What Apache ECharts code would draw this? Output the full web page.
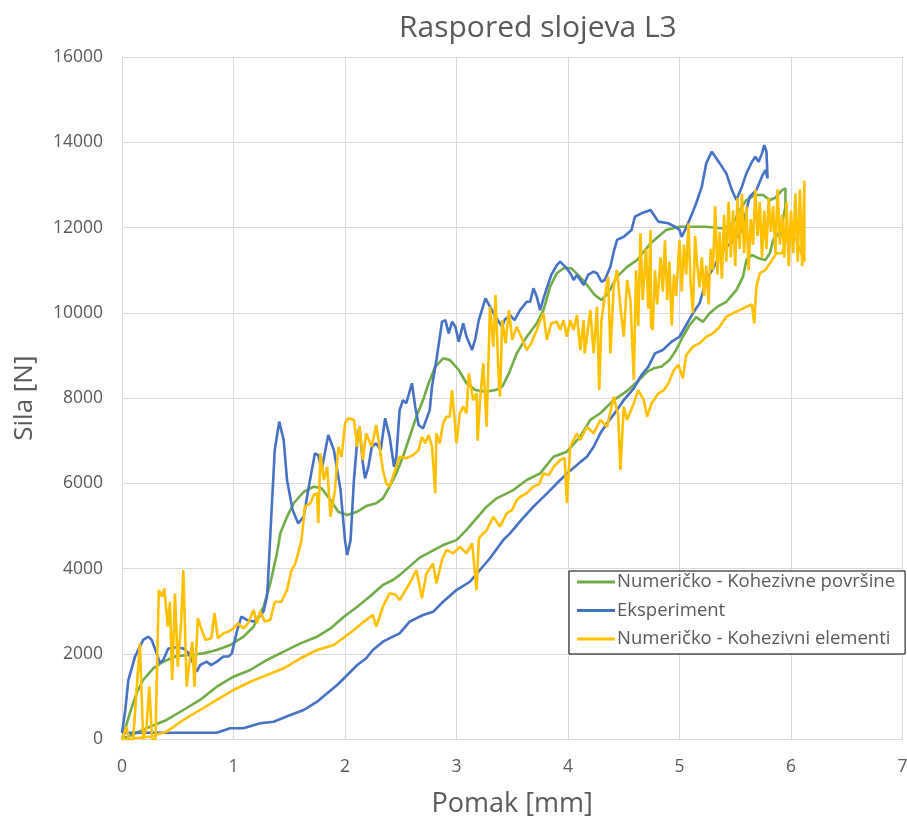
<!DOCTYPE html>
<html>
<head>
<meta charset="utf-8">
<title>Raspored slojeva L3</title>
<script src="https://cdn.jsdelivr.net/npm/echarts@6/dist/echarts.min.js"></script>
<style>
  html, body { margin: 0; padding: 0; background: #fff; }
  #chart { width: 907px; height: 816px; }
</style>
</head>
<body>
<div id="chart"></div>
<script>
// Axis ticks
const xTicks = [0, 1, 2, 3, 4, 5, 6, 7];
const yTicks = [0, 2000, 4000, 6000, 8000, 10000, 12000, 14000, 16000];

const seriesNames = [
  'Numeričko - Kohezivne površine',
  'Eksperiment',
  'Numeričko - Kohezivni elementi'
];

// Numeričko - Kohezivne površine: loading branch, then unloading branch [pomak mm, sila N]
const kohezivnePovrsine = [
  [0,0],[0.07,610],[0.13,1080],[0.19,1390],[0.28,1665],[0.37,1820],[0.49,1955],[0.61,1977],
  [0.73,2015],[0.85,2094],[0.97,2210],[1.09,2406],[1.18,2640],[1.27,3110],[1.33,3660],[1.39,4360],
  [1.42,4830],[1.48,5220],[1.54,5535],[1.63,5805],[1.72,5925],[1.79,5885],[1.87,5610],[1.94,5337],
  [2.02,5260],[2.11,5337],[2.19,5470],[2.28,5535],[2.34,5650],[2.40,5925],[2.46,6235],[2.52,6625],
  [2.58,7095],[2.64,7565],[2.70,7955],[2.75,8350],[2.81,8740],[2.88,8935],[2.94,8895],[3.02,8660],
  [3.09,8350],[3.17,8190],[3.26,8150],[3.35,8190],[3.41,8270],[3.47,8580],[3.54,9050],[3.63,9440],
  [3.72,9755],[3.78,10065],[3.84,10615],[3.90,10930],[3.96,11045],[4.03,11045],[4.09,10890],
  [4.17,10655],[4.24,10420],[4.30,10300],[4.36,10460],[4.44,10850],[4.53,11080],[4.62,11240],
  [4.74,11630],[4.88,11945],[5.0,12020],[5.13,12020],[5.24,12020],[5.39,11980],[5.48,12100],
  [5.54,12410],[5.60,12645],[5.68,12765],[5.75,12765],[5.81,12645],[5.86,12700],[5.92,12880],
  [5.95,12920],
  [5.95,12490],[5.92,12100],[5.89,11865],[5.84,11710],[5.81,11395],[5.77,11240],[5.71,11280],
  [5.65,11355],[5.60,11240],[5.57,10850],[5.51,10535],[5.42,10260],[5.34,10145],[5.27,9990],
  [5.21,9790],[5.15,9900],[5.09,9715],[5.03,9440],[4.97,9130],[4.91,8895],[4.84,8740],[4.77,8700],
  [4.71,8620],[4.62,8385],[4.53,8170],[4.41,7955],[4.29,7645],[4.20,7490],[4.11,7100],[3.99,6745],
  [3.87,6625],[3.75,6235],[3.63,6080],[3.51,5845],[3.36,5650],[3.27,5455],[3.09,4910],[3.0,4670],
  [2.88,4555],[2.67,4260],[2.49,3850],[2.43,3735],[2.34,3620],[2.22,3345],[2.11,3110],[1.99,2875],
  [1.87,2600],[1.75,2406],[1.60,2250],[1.45,2055],[1.30,1860],[1.15,1625],[1.0,1468],[0.85,1234],
  [0.70,922],[0.55,687],[0.40,453],[0.25,295],[0,0]
];

// Eksperiment: loading branch, then unloading branch [pomak mm, sila N]
const eksperiment = [
  [0,150],[0.03,700],[0.057,1390],[0.117,1940],[0.19,2330],[0.236,2406],[0.266,2330],[0.31,2020],
  [0.34,1790],[0.37,1860],[0.415,2130],[0.49,2160],[0.55,2130],[0.6,2015],[0.64,1780],[0.67,1585],
  [0.70,1740],[0.76,1820],[0.80,1740],[0.85,1820],[0.91,1940],[0.955,1940],[0.985,2015],[1.03,2525],
  [1.07,2875],[1.12,2800],[1.18,2760],[1.22,2840],[1.27,3000],[1.30,3345],[1.31,3735],[1.32,4280],
  [1.37,6785],[1.41,7450],[1.45,7020],[1.48,6080],[1.53,5380],[1.58,5065],[1.63,5220],[1.67,5845],
  [1.73,6705],[1.76,6665],[1.79,6315],[1.85,7135],[1.90,6785],[1.96,5845],[2.0,4670],[2.02,4320],
  [2.05,4670],[2.08,6080],[2.11,7020],[2.13,7330],[2.16,6470],[2.18,6120],[2.21,6390],[2.24,6860],
  [2.28,6940],[2.32,6785],[2.36,7530],[2.40,7095],[2.44,6390],[2.46,6625],[2.49,7720],[2.52,7955],
  [2.55,7880],[2.60,8350],[2.63,7800],[2.66,7370],[2.70,7290],[2.76,7720],[2.78,8270],[2.82,8895],
  [2.87,9790],[2.90,9830],[2.93,9520],[2.96,9790],[2.99,9675],[3.02,9325],[3.06,9755],[3.09,9440],
  [3.14,9130],[3.17,9405],[3.20,9830],[3.26,10340],[3.30,10145],[3.35,9910],[3.38,9790],[3.41,9675],
  [3.43,9830],[3.48,9950],[3.52,9830],[3.57,10065],[3.63,10260],[3.66,10260],[3.69,10575],
  [3.72,10380],[3.75,10065],[3.79,10420],[3.85,10890],[3.90,11120],[3.93,11200],[3.99,11045],
  [4.03,10890],[4.05,10770],[4.08,10890],[4.14,10655],[4.18,10890],[4.23,10965],[4.26,10930],
  [4.30,10730],[4.33,10770],[4.38,11080],[4.41,11435],[4.44,11710],[4.50,11785],[4.57,11945],
  [4.60,12255],[4.66,12335],[4.74,12410],[4.77,12295],[4.81,12140],[4.90,12100],[4.96,12020],
  [5.0,11945],[5.02,11785],[5.05,11945],[5.09,12180],[5.15,12570],[5.20,12960],[5.24,13510],
  [5.29,13780],[5.33,13625],[5.38,13430],[5.42,13270],[5.47,12880],[5.51,12645],[5.56,12960],
  [5.60,13270],[5.65,13545],[5.68,13660],[5.71,13545],[5.74,13740],[5.76,13935],[5.78,13780],
  [5.79,13155],
  [5.77,13350],[5.74,13200],[5.69,12880],[5.63,12725],[5.60,12410],[5.57,12020],[5.54,11865],
  [5.48,11670],[5.42,11550],[5.37,11395],[5.31,11080],[5.24,10770],[5.18,10225],[5.12,9990],
  [5.06,9715],[5.0,9440],[4.93,9325],[4.85,9130],[4.78,9050],[4.72,8735],[4.66,8545],[4.59,8230],
  [4.50,7955],[4.44,7720],[4.35,7410],[4.29,7175],[4.23,6860],[4.17,6625],[4.11,6500],[4.02,6300],
  [3.93,6080],[3.81,5760],[3.69,5455],[3.58,5140],[3.48,4830],[3.42,4675],[3.30,4245],[3.21,3970],
  [3.12,3695],[3.0,3500],[2.88,3225],[2.79,2990],[2.70,2915],[2.58,2760],[2.49,2485],[2.43,2406],
  [2.34,2290],[2.25,2094],[2.19,1900],[2.11,1742],[2.02,1508],[1.93,1273],[1.84,1080],[1.75,882],
  [1.63,687],[1.51,570],[1.36,413],[1.24,375],[1.09,258],[0.97,258],[0.85,155],[0.25,155],[0,150]
];

// Numeričko - Kohezivni elementi: loading branch, then unloading branch [pomak mm, sila N]
const kohezivniElementi = [
  [0,0],[0.04,295],[0.06,0],[0.10,0],[0.16,2250],[0.19,0],[0.22,300],[0.245,1234],[0.27,0],
  [0.30,0],[0.33,3500],[0.36,3345],[0.38,3540],[0.41,2640],[0.43,3225],[0.45,1390],[0.475,3420],
  [0.50,1700],[0.53,2720],[0.55,3970],[0.58,1234],[0.60,1700],[0.63,2290],[0.65,1234],[0.68,2840],
  [0.715,2565],[0.75,2330],[0.80,2370],[0.83,2955],[0.86,2370],[0.91,2485],[0.955,2525],[1.0,2600],
  [1.04,2720],[1.09,2600],[1.13,2720],[1.18,3030],[1.21,2720],[1.24,3000],[1.28,2760],[1.33,2800],
  [1.37,3225],[1.43,3225],[1.48,3500],[1.52,3970],[1.55,4090],[1.58,4360],[1.61,4670],[1.64,5455],
  [1.69,5535],[1.72,5730],[1.75,5770],[1.76,5065],[1.78,6705],[1.81,6080],[1.84,6390],[1.87,5220],
  [1.91,5845],[1.94,6860],[1.97,6625],[2.0,7410],[2.03,7530],[2.08,7490],[2.11,6860],[2.13,7330],
  [2.16,6550],[2.19,7175],[2.24,6860],[2.28,7370],[2.31,6860],[2.34,6315],[2.37,6000],[2.40,5925],
  [2.45,6315],[2.49,6625],[2.55,6590],[2.61,6665],[2.66,6785],[2.69,7095],[2.72,6940],[2.75,7135],
  [2.78,6860],[2.81,5770],[2.82,7175],[2.85,6940],[2.88,7410],[2.91,7565],[2.94,7565],[2.96,8190],
  [2.98,7600],[3.0,6940],[3.03,7645],[3.06,7800],[3.09,7645],[3.11,8580],[3.15,7955],[3.18,8110],
  [3.19,7000],[3.21,7915],[3.24,8815],[3.27,7330],[3.30,10145],[3.33,9205],[3.35,10420],[3.38,8350],
  [3.39,8035],[3.41,9830],[3.44,9285],[3.47,10065],[3.50,9365],[3.54,9675],[3.58,9440],[3.63,9130],
  [3.67,9285],[3.72,9600],[3.75,9830],[3.78,9990],[3.81,9365],[3.85,9755],[3.90,9790],[3.93,9600],
  [3.96,9830],[3.99,9440],[4.02,9830],[4.05,9600],[4.08,9950],[4.11,9130],[4.14,9830],[4.15,9050],
  [4.17,9440],[4.20,10065],[4.23,9050],[4.26,10145],[4.28,8190],[4.30,9830],[4.33,10380],[4.36,10850],
  [4.38,9050],[4.41,10615],[4.44,11005],[4.47,10145],[4.50,9440],[4.53,10770],[4.56,10300],
  [4.59,8425],[4.61,11000],[4.63,9700],[4.65,11865],[4.67,10300],[4.70,11500],[4.72,10100],
  [4.74,11945],[4.745,9675],[4.76,9600],[4.78,11000],[4.80,10200],[4.83,11300],[4.85,10500],
  [4.87,11700],[4.89,10300],[4.91,11200],[4.93,9700],[4.95,10900],[4.97,10400],[5.0,11700],
  [5.02,10500],[5.04,11600],[5.06,10900],[5.08,12100],[5.10,10700],[5.12,10000],[5.14,11800],
  [5.16,11100],[5.18,10600],[5.20,11300],[5.22,10400],[5.24,11100],[5.26,10200],[5.28,11500],
  [5.30,11000],[5.32,12500],[5.34,10900],[5.36,11900],[5.38,10800],[5.40,12300],[5.42,11200],
  [5.44,12600],[5.46,11300],[5.48,12400],[5.50,11100],[5.52,12700],[5.54,11500],[5.56,12800],
  [5.58,11400],[5.60,12500],[5.62,11000],[5.64,12200],[5.66,11600],[5.68,12900],[5.70,11800],
  [5.72,12600],[5.74,11300],[5.76,12400],[5.78,11500],[5.80,12700],[5.82,11900],[5.84,12500],
  [5.86,11400],[5.88,12900],[5.90,11600],[5.92,12300],[5.94,11300],[5.96,12600],[5.98,11100],
  [6.0,12400],[6.02,11400],[6.04,12800],[6.06,11200],[6.08,12900],[6.10,11100],[6.12,13100],
  [6.12,11200],
  [6.05,11700],[5.98,11900],[5.92,11400],[5.87,11395],[5.81,11160],[5.77,11005],[5.72,10930],
  [5.69,10615],[5.67,9755],[5.65,10200],[5.60,10145],[5.54,10065],[5.48,9990],[5.42,9910],
  [5.36,9675],[5.30,9520],[5.24,9440],[5.18,9285],[5.12,9205],[5.06,9010],[5.03,8465],[4.99,8780],
  [4.95,8660],[4.90,8350],[4.86,8190],[4.81,8110],[4.75,7880],[4.71,7565],[4.68,7955],[4.63,8190],
  [4.59,7880],[4.53,7490],[4.50,7800],[4.47,6315],[4.45,7600],[4.41,8035],[4.35,7330],[4.29,7490],
  [4.23,7175],[4.17,7330],[4.11,7020],[4.08,7175],[4.02,6860],[3.99,5535],[3.97,6600],[3.93,6550],
  [3.87,6390],[3.83,6200],[3.78,6235],[3.74,5980],[3.69,5925],[3.63,5770],[3.58,5700],[3.54,5610],
  [3.50,5380],[3.45,5300],[3.39,4985],[3.33,5220],[3.27,4900],[3.21,4750],[3.20,4670],[3.18,3500],
  [3.14,4595],[3.09,4360],[3.03,4515],[2.97,4360],[2.91,4440],[2.87,4205],[2.82,3660],[2.79,4125],
  [2.73,3890],[2.69,3305],[2.64,3970],[2.58,3660],[2.49,3265],[2.45,3400],[2.40,3420],[2.34,3110],
  [2.28,2640],[2.25,2915],[2.17,2760],[2.08,2565],[2.02,2445],[1.96,2330],[1.90,2210],[1.75,2094],
  [1.60,1900],[1.45,1665],[1.30,1508],[1.15,1350],[1.0,1156],[0.85,922],[0.70,687],[0.55,453],
  [0.40,180],[0.25,60],[0,0]
];

const seriesColors = ['#70AD47', '#4472C4', '#FFC000'];
const seriesData = [kohezivnePovrsine, eksperiment, kohezivniElementi];

const textColor = '#595959';
const fontFamily = '"Open Sans", "Noto Sans", sans-serif';

const chart = echarts.init(document.getElementById('chart'), null, { renderer: 'canvas' });

chart.setOption({
  animation: false,
  backgroundColor: '#ffffff',
  textStyle: { fontFamily: fontFamily },
  title: {
    text: 'Raspored slojeva L3',
    left: 394,
    top: 8,
    textStyle: { fontFamily: fontFamily, fontSize: 30, fontWeight: 'normal', color: textColor }
  },
  grid: {
    left: 122, right: 4.5, top: 57, bottom: 76.7,
    containLabel: false,
    outerBoundsMode: 'none'
  },
  xAxis: {
    type: 'value',
    min: xTicks[0],
    max: xTicks[xTicks.length - 1],
    interval: 1,
    name: 'Pomak [mm]',
    nameLocation: 'middle',
    nameGap: 52,
    nameTextStyle: { fontFamily: fontFamily, fontSize: 27, color: textColor },
    axisLine: { show: true, onZero: false, lineStyle: { color: '#D9D9D9', width: 1 } },
    axisTick: { show: false },
    axisLabel: { fontFamily: fontFamily, fontSize: 17.5, color: textColor, margin: 19,
      formatter: v => String(v) },
    splitLine: { show: true, lineStyle: { color: '#D9D9D9', width: 1 } }
  },
  yAxis: {
    type: 'value',
    min: yTicks[0],
    max: yTicks[yTicks.length - 1],
    interval: 2000,
    name: 'Sila [N]',
    nameLocation: 'middle',
    nameGap: 84,
    nameTextStyle: { fontFamily: fontFamily, fontSize: 26, color: textColor },
    axisLine: { show: true, lineStyle: { color: '#D9D9D9', width: 1 } },
    axisTick: { show: false },
    axisLabel: { fontFamily: fontFamily, fontSize: 17.5, color: textColor, margin: 19,
      formatter: v => String(v) },
    splitLine: { show: true, lineStyle: { color: '#D9D9D9', width: 1 } }
  },
  legend: {
    orient: 'vertical',
    left: 569,
    top: 571,
    data: seriesNames,
    icon: 'rect',
    itemWidth: 38,
    itemHeight: 3,
    itemGap: 8.5,
    padding: [1, 10, 5, 8],
    borderColor: '#000000',
    borderWidth: 1,
    backgroundColor: '#ffffff',
    textStyle: { fontFamily: fontFamily, fontSize: 18.5, color: textColor, padding: [0, 0, 0, -3],
      lineHeight: 20 }
  },
  series: seriesNames.map((name, i) => ({
    name: name,
    type: 'line',
    data: seriesData[i],
    symbol: 'none',
    showSymbol: false,
    smooth: false,
    lineStyle: { color: seriesColors[i], width: 2.6 },
    itemStyle: { color: seriesColors[i] },
    z: 2 + i
  }))
});
</script>
</body>
</html>
